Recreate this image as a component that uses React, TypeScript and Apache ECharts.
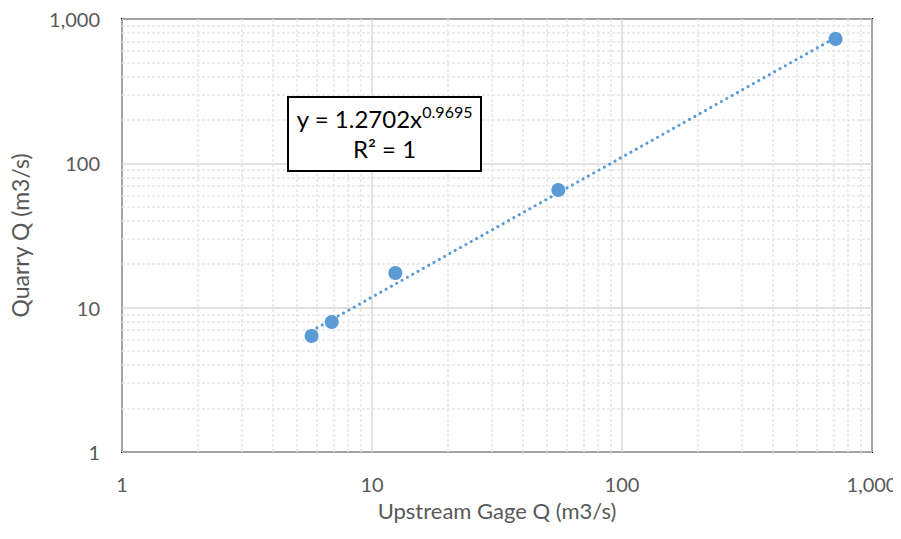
import React, { useEffect, useRef } from "react";
import * as echarts from "echarts";

const upstreamQ = [5.73, 6.9, 12.4, 55.6, 715];
const quarryQ = [6.37, 7.96, 17.4, 65.4, 728];
const fitCoef = 1.2702;
const fitExp = 0.9695;
const decades = [1, 10, 100];
const minorMultipliers = [2, 3, 4, 5, 6, 7, 8, 9];
const xTitle = "Upstream Gage Q (m3/s)";
const yTitle = "Quarry Q (m3/s)";

const FONT = "Lato, 'Open Sans', sans-serif";

export default function App() {
  const ref = useRef<HTMLDivElement>(null);
  useEffect(() => {
    if (!ref.current) return;
    const chart = echarts.init(ref.current, null, { renderer: "svg" });
    const minorVals: number[] = [];
    decades.forEach((d) => minorMultipliers.forEach((m) => minorVals.push(d * m)));
    const xMin = Math.min(...upstreamQ);
    const xMax = Math.max(...upstreamQ);
    const trend = [xMin, xMax].map((x) => [x, fitCoef * Math.pow(x, fitExp)]);
    const minorStyle = { color: "#e6e6e6", width: 1.5, type: [3, 2] as any };
    const fmt = (v: number) => Number(v).toLocaleString("en-US");
    chart.setOption({
      animation: false,
      grid: {
        left: 121,
        top: 19,
        right: 29,
        bottom: 87,
        show: true,
        borderColor: "#000",
        borderWidth: 2,
        backgroundColor: "#fff",
      },
      xAxis: {
        type: "log",
        logBase: 10,
        min: 1,
        max: 1000,
        name: xTitle,
        nameLocation: "middle",
        nameGap: 47,
        nameTextStyle: { color: "#595959", fontSize: 22, fontFamily: FONT },
        axisLine: { show: false },
        axisTick: { show: false },
        axisLabel: { color: "#595959", fontSize: 20, fontFamily: FONT, margin: 22, formatter: fmt },
        splitLine: { show: true, lineStyle: { color: "#d9d9d9", width: 1.5 } },
      },
      yAxis: {
        type: "log",
        logBase: 10,
        min: 1,
        max: 1000,
        name: yTitle,
        nameLocation: "middle",
        nameGap: 91,
        nameTextStyle: { color: "#595959", fontSize: 23, fontFamily: FONT },
        axisLine: { show: false },
        axisTick: { show: false },
        axisLabel: { color: "#595959", fontSize: 20, fontFamily: FONT, margin: 22, formatter: fmt },
        splitLine: { show: true, lineStyle: { color: "#d9d9d9", width: 1.5 } },
      },
      series: [
        {
          type: "scatter",
          name: "grid",
          data: [],
          silent: true,
          z: 1,
          markLine: {
            silent: true,
            z: 1,
            symbol: "none",
            label: { show: false },
            lineStyle: minorStyle,
            data: [
              ...minorVals.map((v) => ({ xAxis: v })),
              ...minorVals.map((v) => ({ yAxis: v })),
            ],
          },
        },
        {
          type: "line",
          name: "trend",
          data: trend,
          symbol: "none",
          z: 3,
          lineStyle: { color: "#5b9bd5", width: 3, type: [0.1, 6], cap: "round" },
        },
        {
          type: "scatter",
          name: "data",
          data: upstreamQ.map((x, i) => [x, quarryQ[i]]),
          symbolSize: 14,
          z: 4,
          itemStyle: { color: "#5b9bd5", opacity: 1 },
        },
      ],
      graphic: [
        {
          type: "rect",
          shape: { x: 288, y: 97, width: 193, height: 74 },
          style: { fill: "#fff", stroke: "#000", lineWidth: 2 },
          z: 10,
        },
        {
          type: "text",
          x: 384.5,
          y: 103,
          z: 11,
          style: {
            text: "{b|y = 1.2702x}{s|0.9695}\n{b|R² = 1}",
            align: "center",
            verticalAlign: "top",
            fill: "#000",
            fontFamily: FONT,
            rich: {
              b: { fontSize: 24, lineHeight: 30, fontFamily: FONT, fill: "#000" },
              s: { fontSize: 16, lineHeight: 30, fontFamily: FONT, fill: "#000", verticalAlign: "top", padding: [0, 0, 10, 0] },
            },
          },
        },
      ],
    });
    return () => chart.dispose();
  }, []);
  return <div ref={ref} style={{ width: 901, height: 539, margin: -8 }} />;
}
